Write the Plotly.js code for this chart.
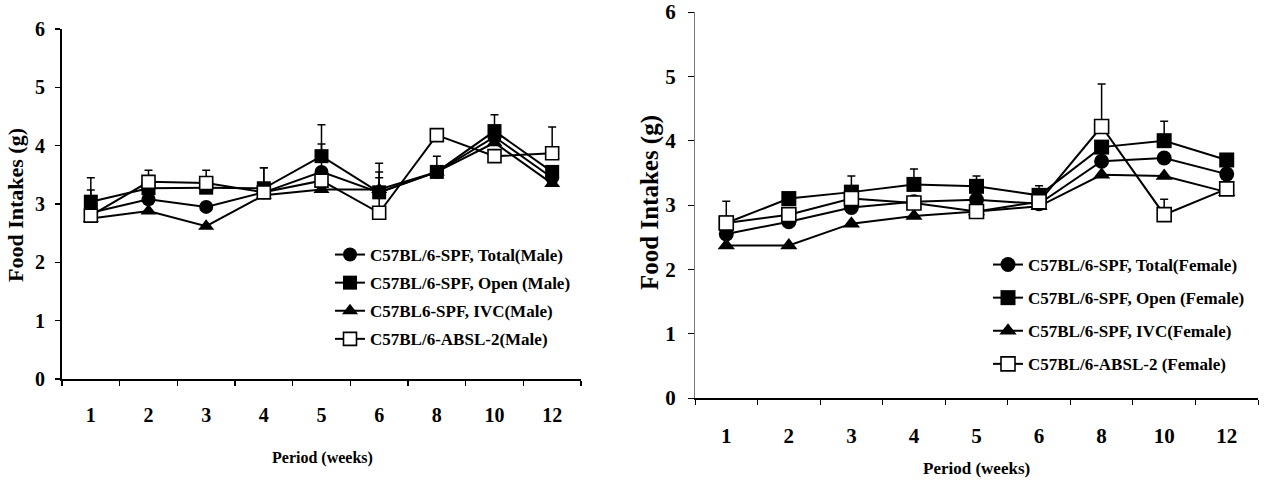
<!DOCTYPE html>
<html>
<head>
<meta charset="utf-8">
<script src="https://cdn.plot.ly/plotly-3.0.1.min.js"></script>
<style>html,body{margin:0;padding:0;background:#fff;}#chart{width:1269px;height:487px;}</style>
</head>
<body>
<div id="chart"></div>
<script>
// Categories (weeks)
const weeks = ["1", "2", "3", "4", "5", "6", "8", "10", "12"];

// Male panel (left)
const maleTotal = [2.85, 3.08, 2.95, 3.20, 3.55, 3.20, 3.55, 4.15, 3.45];
const maleOpen  = [3.04, 3.27, 3.28, 3.27, 3.82, 3.20, 3.55, 4.25, 3.55];
const maleIVC   = [2.75, 2.88, 2.62, 3.15, 3.25, 3.25, 3.55, 4.05, 3.35];
const maleABSL  = [2.80, 3.38, 3.36, 3.20, 3.40, 2.85, 4.18, 3.82, 3.87];
const maleTotalErr = [0.00, 0.00, 0.00, 0.00, 0.48, 0.25, 0.00, 0.00, 0.00];
const maleOpenErr  = [0.20, 0.21, 0.17, 0.35, 0.54, 0.35, 0.27, 0.28, 0.00];
const maleIVCErr   = [0.00, 0.00, 0.00, 0.00, 0.00, 0.00, 0.00, 0.00, 0.00];
const maleABSLErr  = [0.65, 0.20, 0.22, 0.42, 0.00, 0.85, 0.05, 0.00, 0.45];

// Female panel (right)
const femTotal = [2.55, 2.74, 2.96, 3.05, 3.08, 3.02, 3.68, 3.73, 3.48];
const femOpen  = [2.72, 3.10, 3.20, 3.32, 3.29, 3.15, 3.90, 4.00, 3.70];
const femIVC   = [2.37, 2.37, 2.71, 2.83, 2.90, 2.98, 3.47, 3.45, 3.20];
const femABSL  = [2.72, 2.85, 3.10, 3.03, 2.90, 3.05, 4.22, 2.85, 3.25];
const femOpenErr = [0.34, 0.00, 0.25, 0.24, 0.16, 0.15, 0.00, 0.30, 0.00];
const femABSLErr = [0.00, 0.00, 0.00, 0.00, 0.00, 0.00, 0.66, 0.24, 0.00];
const zeros = [0, 0, 0, 0, 0, 0, 0, 0, 0];

const maleNames = ["C57BL/6-SPF, Total(Male)", "C57BL/6-SPF, Open (Male)", "C57BL6-SPF, IVC(Male)", "C57BL/6-ABSL-2(Male)"];
const femNames  = ["C57BL/6-SPF, Total(Female)", "C57BL/6-SPF, Open (Female)", "C57BL/6-SPF, IVC(Female)", "C57BL/6-ABSL-2 (Female)"];

const FONT = "'Liberation Serif', 'Times New Roman', serif";

function mk(name, y, err, sym, filled, xa, ya, leg, grp, size) {
  return {
    type: "scatter", mode: "lines+markers", name: name,
    x: weeks, y: y, xaxis: xa, yaxis: ya, legend: leg, legendgroup: grp,
    line: {color: "#000", width: 2},
    marker: {symbol: sym, size: size, color: filled ? "#000" : "#fff", line: {color: "#000", width: filled ? 0 : 1.6}},
    error_y: {type: "data", symmetric: false, array: err, arrayminus: zeros, color: "#000", thickness: 1.5, width: 4}
  };
}

const data = [
  mk(maleNames[0], maleTotal, maleTotalErr, "circle", true, "x", "y", "legend", "a", 14),
  mk(maleNames[1], maleOpen, maleOpenErr, "square", true, "x", "y", "legend", "b", 14),
  mk(maleNames[2], maleIVC, maleIVCErr, "triangle-up", true, "x", "y", "legend", "c", 14),
  mk(maleNames[3], maleABSL, maleABSLErr, "square", false, "x", "y", "legend", "d", 13),
  mk(femNames[0], femTotal, zeros, "circle", true, "x2", "y2", "legend2", "e", 15),
  mk(femNames[1], femOpen, femOpenErr, "square", true, "x2", "y2", "legend2", "f", 15),
  mk(femNames[2], femIVC, zeros, "triangle-up", true, "x2", "y2", "legend2", "g", 15),
  mk(femNames[3], femABSL, femABSLErr, "square", false, "x2", "y2", "legend2", "h", 14)
];

const W = 1269, H = 487;
const px = v => v / W, py = v => 1 - v / H;

const baseX = {
  type: "category", range: [-0.5, 8.5], showgrid: false, zeroline: false,
  showline: true, linecolor: "#000", ticks: "outside", tickson: "boundaries",
  tickcolor: "#000", ticklen: 5, fixedrange: true
};
const baseY = {
  range: [0, 6], dtick: 1, showgrid: false, zeroline: false, showline: true,
  ticks: "outside", tickcolor: "#000", fixedrange: true
};

const layout = {
  width: W, height: H,
  margin: {l: 0, r: 0, t: 0, b: 0},
  paper_bgcolor: "#fff", plot_bgcolor: "#fff",
  font: {family: FONT, color: "#000"},
  showlegend: true,
  xaxis: Object.assign({}, baseX, {
    domain: [px(62), px(581)], anchor: "y", linewidth: 2, tickwidth: 1.5,
    tickfont: {family: FONT, size: 20, weight: "bold"}, ticklabelstandoff: 17
  }),
  yaxis: Object.assign({}, baseY, {
    domain: [py(379), py(29)], anchor: "x", linecolor: "#000", linewidth: 2, ticklen: 5, tickwidth: 1.5,
    tickfont: {family: FONT, size: 20, weight: "bold"}, ticklabelstandoff: 6
  }),
  xaxis2: Object.assign({}, baseX, {
    domain: [px(695), px(1258)], anchor: "y2", linewidth: 1.5, tickwidth: 1,
    tickfont: {family: FONT, size: 21, weight: "bold"}, ticklabelstandoff: 18
  }),
  yaxis2: Object.assign({}, baseY, {
    domain: [py(398), py(12)], anchor: "x2", linecolor: "#777", linewidth: 1, ticklen: 6, tickwidth: 1,
    tickfont: {family: FONT, size: 21, weight: "bold"}, ticklabelstandoff: 8
  }),
  legend: {
    x: px(330), xanchor: "left", y: py(237), yanchor: "top",
    bgcolor: "rgba(0,0,0,0)", borderwidth: 0, traceorder: "grouped", tracegroupgap: 3,
    font: {family: FONT, size: 17, weight: "bold"}, itemwidth: 30
  },
  legend2: {
    x: px(988), xanchor: "left", y: py(247), yanchor: "top",
    bgcolor: "rgba(0,0,0,0)", borderwidth: 0, traceorder: "grouped", tracegroupgap: 8,
    font: {family: FONT, size: 17, weight: "bold"}, itemwidth: 30
  },
  annotations: [
    {text: "Food Intakes (g)", textangle: -90, x: px(16), y: py(205), xref: "paper", yref: "paper",
     showarrow: false, xanchor: "center", yanchor: "middle", font: {family: FONT, size: 22, weight: "bold"}},
    {text: "Food Intakes (g)", textangle: -90, x: px(650), y: py(203), xref: "paper", yref: "paper",
     showarrow: false, xanchor: "center", yanchor: "middle", font: {family: FONT, size: 25, weight: "bold"}},
    {text: "Period (weeks)", x: px(322), y: py(458), xref: "paper", yref: "paper",
     showarrow: false, xanchor: "center", yanchor: "middle", font: {family: FONT, size: 16, weight: "bold"}},
    {text: "Period (weeks)", x: px(976), y: py(468), xref: "paper", yref: "paper",
     showarrow: false, xanchor: "center", yanchor: "middle", font: {family: FONT, size: 17, weight: "bold"}}
  ]
};

Plotly.newPlot("chart", data, layout, {staticPlot: true, displayModeBar: false});
</script>
</body>
</html>
